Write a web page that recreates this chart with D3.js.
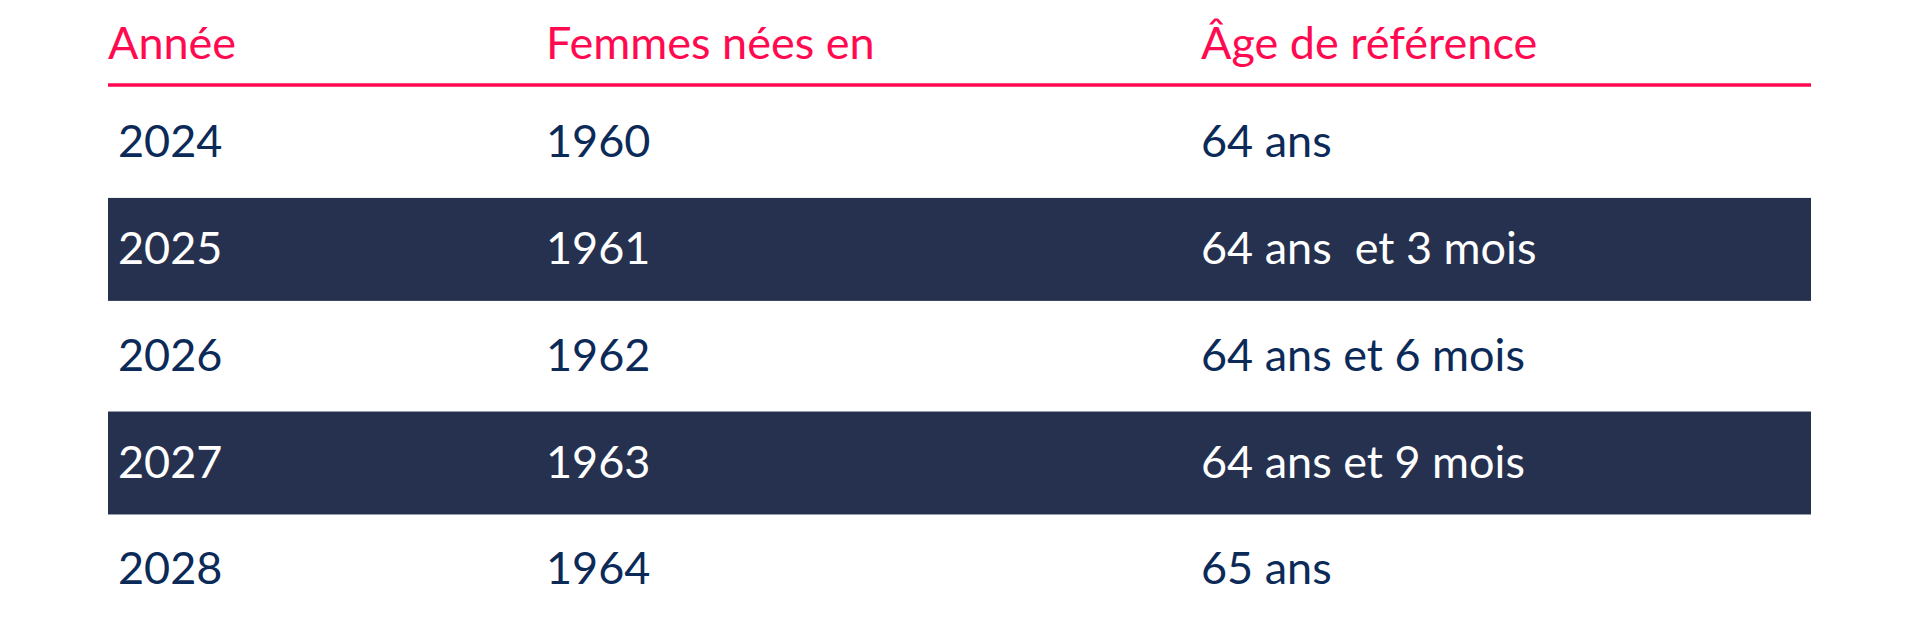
<!DOCTYPE html>
<html>
<head>
<meta charset="utf-8">
<script src="https://cdn.jsdelivr.net/npm/d3@7"></script>
<style>
  body { margin: 0; background: #fff; }
  svg text { font-family: Lato, "Open Sans", sans-serif; font-weight: 400; white-space: pre; }
</style>
</head>
<body>
<div id="chart"></div>
<script>
// Table content
const headers = ["Année", "Femmes nées en", "Âge de référence"];
const annees = ["2024", "2025", "2026", "2027", "2028"];
const naissances = ["1960", "1961", "1962", "1963", "1964"];
const ages = ["64 ans", "64 ans  et 3 mois", "64 ans et 6 mois", "64 ans et 9 mois", "65 ans"];

const W = 1920, H = 618;
const left = 108, right = 1811;
const red = "#ff0a50", navy = "#0c2a58", dark = "#263150";
const fontSize = 45;

const svg = d3.select("#chart")
  .append("svg")
    .attr("width", W)
    .attr("height", H);

// rows: band scale over the years (dark stripes are slightly thinner than the step)
const y = d3.scaleBand()
  .domain(annees)
  .range([89.2, 623.2])
  .paddingInner(0.036)
  .paddingOuter(0.018);

// columns: left edge of each column
const x = d3.scaleOrdinal()
  .domain([0, 1, 2])
  .range([left, 546, 1201]);

// striped background on odd rows
svg.selectAll("rect.stripe")
  .data(annees.filter((d, i) => i % 2 === 1))
  .enter()
  .append("rect")
    .attr("class", "stripe")
    .attr("x", left)
    .attr("y", d => y(d))
    .attr("width", right - left)
    .attr("height", y.bandwidth())
    .attr("fill", dark);

// header
svg.selectAll("text.head")
  .data(headers)
  .enter()
  .append("text")
    .attr("class", "head")
    .attr("x", (d, i) => x(i))
    .attr("y", 59)
    .attr("fill", red)
    .style("font-size", fontSize + "px")
    .text(d => d);

svg.append("line")
  .attr("x1", left)
  .attr("x2", right)
  .attr("y1", 85)
  .attr("y2", 85)
  .attr("stroke", red)
  .attr("stroke-width", 3.5);

// body cells
const rows = annees.map((a, i) => [a, naissances[i], ages[i]]);

const rowG = svg.selectAll("g.row")
  .data(rows)
  .enter()
  .append("g")
    .attr("class", "row")
    .attr("transform", d => `translate(0,${y(d[0]) + y.bandwidth() / 2})`);

rowG.selectAll("text")
  .data((d, r) => d.map(v => ({v, r})))
  .enter()
  .append("text")
    .attr("x", (d, i) => x(i) + (i === 0 ? 10 : 0))
    .attr("y", 14.5)
    .attr("fill", d => d.r % 2 === 1 ? "#fff" : navy)
    .style("font-size", fontSize + "px")
    .text(d => d.v);
</script>
</body>
</html>
